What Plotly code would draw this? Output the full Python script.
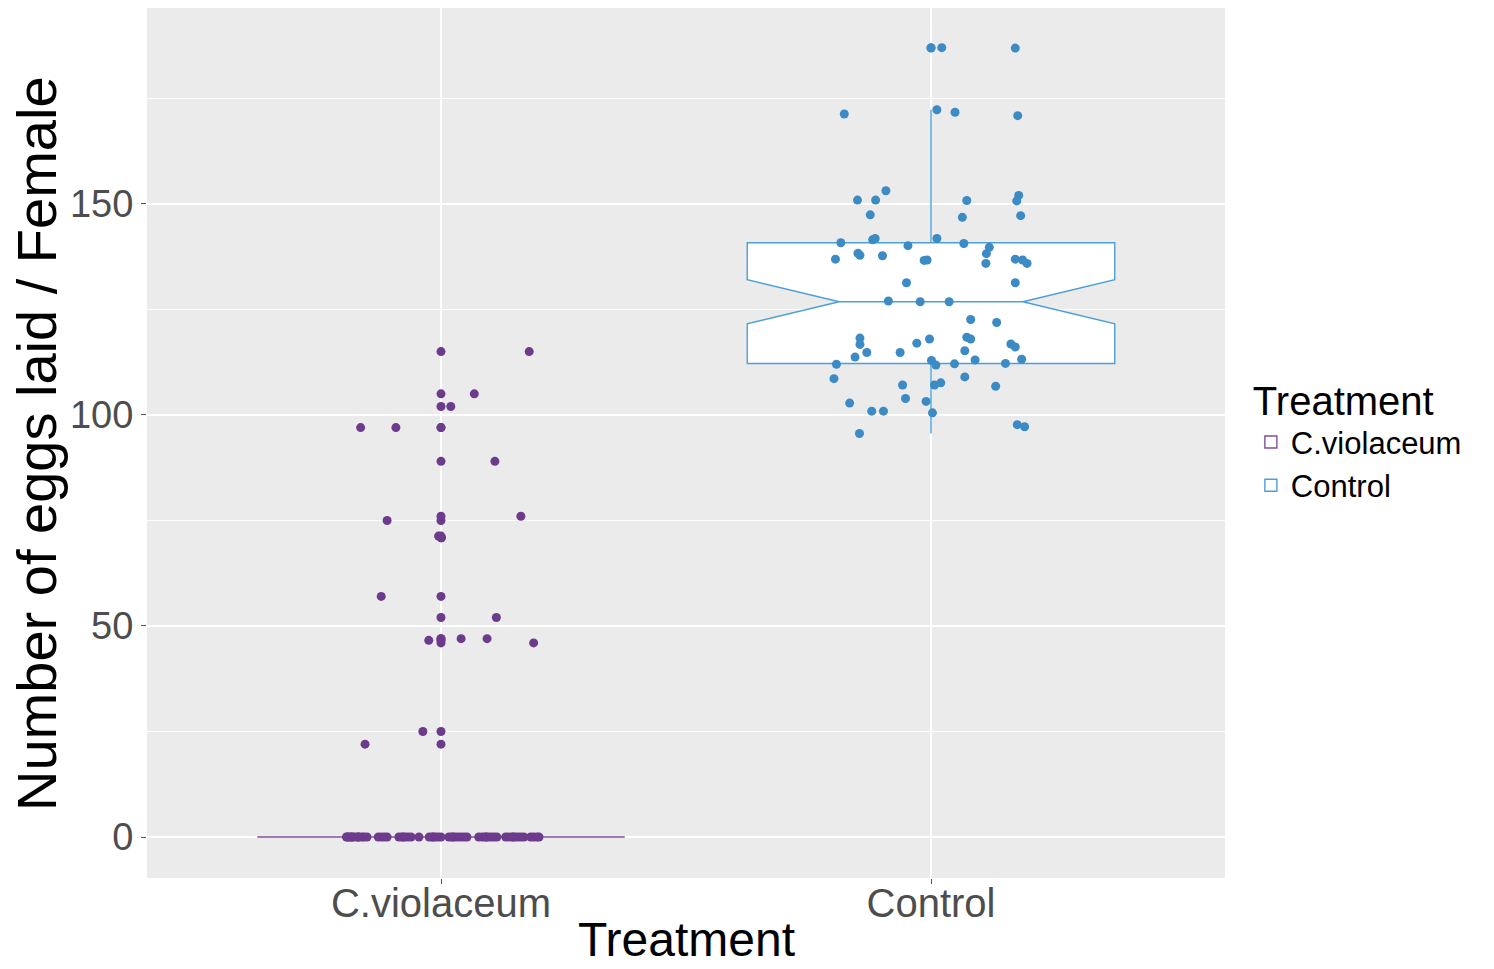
import plotly.graph_objects as go

# ---------------- data ----------------
categories = ["C.violaceum", "Control"]

# C.violaceum: eggs per female and horizontal jitter offset (category units)
cviol_eggs = [115, 105, 102, 97, 97, 89, 76, 75, 71.3, 70.9, 57, 52, 46.6, 47, 47, 46, 25, 22] + [0] * 58
cviol_jitter = [0.180, 0.068, 0.020, -0.164, -0.092, 0.110, 0.163, -0.110, -0.005, 0.001,
                -0.122, 0.113, -0.025, 0.041, 0.094, 0.189, -0.037, -0.155,
                # zero-egg females
                -0.193, -0.189, -0.185, -0.181, -0.177, -0.171, -0.167, -0.161, -0.157, -0.151,
                -0.128, -0.122, -0.116, -0.110,
                -0.086, -0.080, -0.073, -0.067, -0.061,
                -0.045,
                -0.024, -0.018, -0.012, -0.006, 0.000,
                0.016, 0.022, 0.029, 0.035, 0.041, 0.047, 0.053,
                0.077, 0.084, 0.090, 0.096, 0.102, 0.108, 0.114,
                0.132, 0.138, 0.145, 0.151, 0.157, 0.163, 0.169,
                0.183, 0.189, 0.196, 0.200,
                -0.191, -0.183, -0.169, -0.077, -0.016, 0.024, 0.092, 0.147]

control_eggs = [187.0, 186.9,
                171.3, 172.3, 171.7, 170.9,
                153.1, 150.9, 150.9, 147.4, 150.8, 146.8, 152.0, 150.7, 147.2,
                140.8, 141.5, 141.8, 140.1, 141.8, 140.6, 139.7, 138.2, 135.9, 136.9,
                138.3, 137.8, 137.7, 136.6, 136.7, 136.9, 136.7, 135.9, 131.3, 131.3,
                127.0, 126.8, 126.8,
                122.6, 121.9,
                118.2, 116.7, 117.0, 118.0, 118.4, 118.0, 116.8, 116.1,
                113.7, 114.8, 114.8, 115.2, 113.0, 113.2,
                112.0, 112.9, 111.8, 112.1, 112.2,
                108.6, 107.1, 107.1, 107.6, 109.0, 106.8,
                102.8, 103.9, 103.2,
                100.9, 100.9, 100.5,
                97.7, 97.2,
                95.6]
control_jitter = [0.022, 0.172,
                  -0.177, 0.012, 0.049, 0.177,
                  -0.092, -0.150, -0.113, -0.124, 0.073, 0.064, 0.179, 0.175, 0.183,
                  -0.184, -0.119, -0.114, -0.047, 0.012, 0.067, 0.119, 0.113, 0.112, -0.195,
                  -0.149, -0.145, -0.099, -0.014, -0.008, 0.172, 0.187, 0.196, -0.050, 0.172,
                  -0.087, -0.022, 0.037,
                  0.081, 0.134,
                  -0.145, -0.145, -0.029, -0.003, 0.073, 0.081, 0.163, 0.172,
                  -0.155, -0.131, -0.063, 0.069, 0.090, 0.185,
                  -0.193, 0.001, 0.010, 0.048, 0.152,
                  -0.198, -0.058, 0.007, 0.020, 0.069, 0.132,
                  -0.166, -0.052, -0.010,
                  -0.121, -0.097, 0.003,
                  0.176, 0.191,
                  -0.146]

y_ticks = [0, 50, 100, 150]

# ---------------- style ----------------
FONT = "Liberation Sans"
purple_pt, purple_ln = "#6C3B8C", "#7E4F9C"
blue_pt, blue_ln = "#3C8BC4", "#4DA0D6"

groups = [
    (categories[0], cviol_eggs, cviol_jitter, purple_pt, purple_ln),
    (categories[1], control_eggs, control_jitter, blue_pt, blue_ln),
]

fig = go.Figure()
for i, (name, vals, jit, cpt, cln) in enumerate(groups):
    fig.add_trace(go.Box(
        y=vals, x0=i, name=name, width=0.75,
        notched=True, notchwidth=0.25, whiskerwidth=0,
        boxpoints="outliers", pointpos=0, jitter=0,
        fillcolor="white", line=dict(color=cln, width=1.4),
        marker=dict(color=cpt, size=9, line=dict(width=0)),
        showlegend=True, legendgroup=name, hoverinfo="y",
    ))
    fig.add_trace(go.Scatter(
        x=[i + j for j in jit], y=vals, mode="markers",
        marker=dict(color=cpt, size=9, line=dict(width=0)),
        showlegend=False, legendgroup=name, hoverinfo="y",
    ))

fig.update_layout(
    width=1494, height=969,
    margin=dict(l=147, r=269, t=8, b=91, autoexpand=False),
    paper_bgcolor="white", plot_bgcolor="#EBEBEB",
    font=dict(family=FONT, color="black"),
    legend=dict(
        title=dict(text="Treatment", font=dict(size=40, family=FONT, color="black")),
        font=dict(size=31, family=FONT, color="black"),
        x=1.024, xanchor="left", y=0.506, yanchor="middle",
        bgcolor="rgba(0,0,0,0)", tracegroupgap=0,
    ),
    xaxis=dict(
        range=[-0.6, 1.6], tickmode="array", tickvals=[0, 1], ticktext=categories,
        showgrid=True, gridcolor="white", gridwidth=1.6, zeroline=False,
        ticks="outside", ticklen=5, tickwidth=1, tickcolor="#555555",
        ticklabelstandoff=-15,
        tickfont=dict(size=40, family=FONT, color="#4D4D4D"), showline=False,
    ),
    yaxis=dict(
        range=[-9.7, 196.4], tickmode="array", tickvals=y_ticks,
        showgrid=True, gridcolor="white", gridwidth=1.6, zeroline=False,
        minor=dict(tick0=25, dtick=50, showgrid=True, gridcolor="white", gridwidth=0.8, ticks=""),
        ticks="outside", ticklen=5, tickwidth=1, tickcolor="#555555",
        tickfont=dict(size=38, family=FONT, color="#4D4D4D"), showline=False,
    ),
    annotations=[
        dict(text="Treatment", xref="paper", yref="paper", x=0.5, y=-0.1025,
             xanchor="center", yanchor="bottom", showarrow=False, borderpad=0,
             font=dict(size=48, family=FONT, color="black")),
        dict(text="Number of eggs laid / Female", xref="paper", yref="paper",
             x=-0.103, y=0.5, xanchor="center", yanchor="middle", textangle=-90,
             showarrow=False, font=dict(size=56, family=FONT, color="black")),
    ],
)

fig.write_html("out.html", config={"displayModeBar": False},
               post_script="document.body.style.margin='0';document.body.style.overflow='hidden';")
